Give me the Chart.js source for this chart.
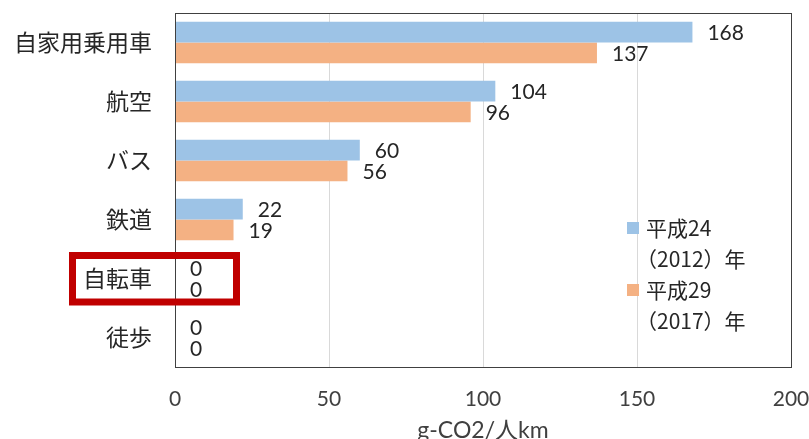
<!DOCTYPE html>
<html>
<head>
<meta charset="utf-8">
<script src="https://cdn.jsdelivr.net/npm/chart.js@4"></script>
<style>
  html, body { margin: 0; padding: 0; background: #fff; }
  #wrap { width: 809px; height: 439px; }
</style>
</head>
<body>
<div id="wrap"><canvas id="co2Chart" width="809" height="439"></canvas></div>
<script>
const categories = ['自家用乗用車', '航空', 'バス', '鉄道', '自転車', '徒歩'];
const values2012 = [168, 104, 60, 22, 0, 0];
const values2017 = [137, 96, 56, 19, 0, 0];
const seriesNames = [['平成24', '（2012）年'], ['平成29', '（2017）年']];
const xTicks = [0, 50, 100, 150, 200];
const axisTitle = 'g-CO2/人km';
const highlighted = '自転車';

const blue = '#9DC3E6';
const orange = '#F4B183';
const numFont = 'Lato, "Noto Sans CJK JP", sans-serif';
const jpFont = '"Noto Sans CJK JP", sans-serif';

// value labels at the end of each bar
const valueLabels = {
  id: 'valueLabels',
  afterDatasetsDraw(chart) {
    const ctx = chart.ctx;
    ctx.save();
    ctx.font = '21px ' + numFont;
    ctx.fillStyle = '#262626';
    ctx.textAlign = 'left';
    ctx.textBaseline = 'middle';
    chart.data.datasets.forEach((ds, i) => {
      chart.getDatasetMeta(i).data.forEach((bar, j) => {
        ctx.fillText(String(ds.data[j]), bar.x + 15, bar.y + 1);
      });
    });
    ctx.restore();
  }
};

// plot frame, legend and the red box
const extras = {
  id: 'extras',
  afterDraw(chart) {
    const ctx = chart.ctx;
    const a = chart.chartArea;
    ctx.save();
    ctx.strokeStyle = '#404040';
    ctx.lineWidth = 1;
    ctx.strokeRect(Math.round(a.left) + 0.5, Math.round(a.top) + 0.5,
      Math.round(a.right - a.left), Math.round(a.bottom - a.top));

    // legend
    const colors = [blue, orange];
    const tops = [228, 290];
    ctx.font = '21px ' + jpFont;
    ctx.textAlign = 'left';
    ctx.textBaseline = 'middle';
    seriesNames.forEach((lines, i) => {
      ctx.fillStyle = colors[i];
      ctx.fillRect(627, tops[i] - 6, 12, 12);
      ctx.fillStyle = '#262626';
      ctx.fillText(lines[0], 646, tops[i]);
      ctx.fillText(lines[1], 636, tops[i] + 31);
    });

    // highlight box
    const yc = chart.scales.y.getPixelForValue(categories.indexOf(highlighted));
    ctx.strokeStyle = '#C00000';
    ctx.lineWidth = 7;
    ctx.strokeRect(72.5, yc - 23, 164, 46.5);
    ctx.restore();
  }
};

function noPad(s) {
  s.paddingLeft = 0; s.paddingRight = 0; s.paddingTop = 0; s.paddingBottom = 0;
}

new Chart(document.getElementById('co2Chart'), {
  type: 'bar',
  data: {
    labels: categories,
    datasets: [
      { label: seriesNames[0].join(''), data: values2012, backgroundColor: blue },
      { label: seriesNames[1].join(''), data: values2017, backgroundColor: orange }
    ]
  },
  options: {
    indexAxis: 'y',
    responsive: false,
    animation: false,
    devicePixelRatio: 1,
    layout: { padding: { top: 13, right: 18, left: 0, bottom: 0 } },
    datasets: { bar: { categoryPercentage: 0.7, barPercentage: 1 } },
    plugins: { legend: { display: false }, tooltip: { enabled: false } },
    scales: {
      x: {
        min: xTicks[0],
        max: xTicks[xTicks.length - 1],
        afterBuildTicks: s => { s.ticks = xTicks.map(v => ({ value: v })); },
        afterFit: s => { s.height = 72; noPad(s); },
        grid: { color: '#D9D9D9', drawTicks: false },
        border: { display: false },
        ticks: { padding: 20, color: '#404040', font: { family: numFont, size: 21 } },
        title: {
          display: true, text: axisTitle, color: '#404040',
          padding: { top: 0, bottom: -3 },
          font: { family: numFont, size: 23, lineHeight: 1 }
        }
      },
      y: {
        afterFit: s => { s.width = 175; noPad(s); },
        grid: { display: false, drawTicks: false },
        border: { display: false },
        ticks: { padding: 23, color: '#262626', font: { family: jpFont, size: 23 } }
      }
    }
  },
  plugins: [valueLabels, extras]
});
</script>
</body>
</html>
